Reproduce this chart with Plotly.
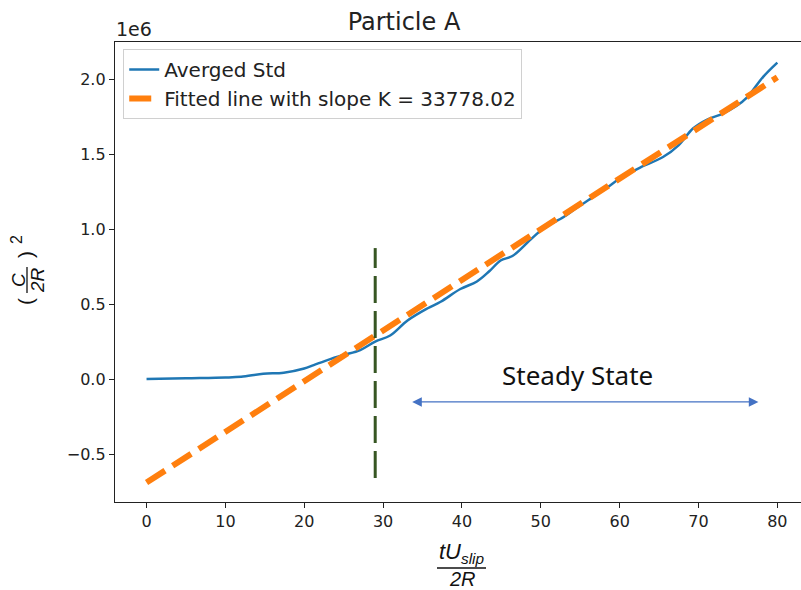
import plotly.graph_objects as go

# Averaged std curve
t_std = [0, 5, 10, 12, 14.8, 17.4, 20, 21.2, 23.3, 25, 27.1, 29, 30.9, 33.1, 35.6,
         37.3, 39.8, 41.9, 43.5, 44.9, 46.4, 48.7, 50.5, 52.9, 54.5, 56.7, 58.5,
         60.1, 62.6, 65.5, 67.5, 69.3, 71.1, 73.1, 74.8, 76.2, 78.2, 80]
std_vals = [0, 5000, 10000, 15000, 35000, 42000, 70000, 93000, 133000, 160000, 193000,
            250000, 290000, 390000, 470000, 515000, 600000, 650000, 720000, 790000,
            820000, 930000, 1010000, 1080000, 1140000, 1215000, 1280000, 1340000,
            1410000, 1480000, 1560000, 1670000, 1730000, 1770000, 1820000, 1880000,
            2015000, 2110000]

# fitted line endpoints, slope K = 33778.02
t_fit = [0, 80]
fit_vals = [-690000, 2012000]

# steady state marker line
t_mark = [29, 29]
mark_vals = [-660000, 873000]

# steady state arrow span
arrow_t = [33.5, 77.6]
arrow_val = -153000

ytick_vals = [-500000, 0, 500000, 1000000, 1500000, 2000000]
ytick_text = ["\u22120.5", "0.0", "0.5", "1.0", "1.5", "2.0"]
xtick_vals = [0, 10, 20, 30, 40, 50, 60, 70, 80]

L, R, T, B = 115, 0, 42, 88
W, H = 801, 590
PW, PH = W - L - R, H - T - B


def px(x):
    return (x - L) / PW


def py(y):
    return (H - B - y) / PH


def label(x, y, text, size, family, angle=0, color="#111"):
    return dict(x=px(x), y=py(y), xref="paper", yref="paper", text=text,
                showarrow=False, xanchor="center", yanchor="middle", textangle=angle,
                font=dict(family=family, size=size, color=color))


fig = go.Figure()
fig.add_trace(go.Scatter(x=t_std, y=std_vals, mode="lines", name="Averged Std",
                         line=dict(color="#1f77b4", width=2.5, shape="spline")))
fig.add_trace(go.Scatter(x=t_fit, y=fit_vals, mode="lines",
                         name="Fitted line with slope K = 33778.02",
                         line=dict(color="#ff7f0e", width=6, dash="22px,9px")))
fig.add_trace(go.Scatter(x=t_mark, y=mark_vals, mode="lines", showlegend=False,
                         line=dict(color="#375623", width=3, dash="27px,8px")))

font = "DejaVu Sans, sans-serif"
lab = "Liberation Sans, sans-serif"
ann = []
# double arrow
ann.append(dict(x=arrow_t[1], y=arrow_val, ax=arrow_t[0], ay=arrow_val,
                xref="x", yref="y", axref="x", ayref="y", text="",
                showarrow=True, arrowhead=2, startarrowhead=2, arrowside="end+start",
                arrowsize=1.6, arrowwidth=1.2, arrowcolor="#4472C4",
                startarrowsize=1.6))
ann.append(label(577, 375, "Steady State", 26, "Noto Sans, sans-serif"))
# offset label
ann.append(label(134, 29, "1e6", 19, font, color="#222"))
# x axis label (fraction)
ann.append(label(462, 553, "<i>tU<sub>slip</sub></i>", 22, lab))
ann.append(label(462, 579, "<i>2R</i>", 20, lab))
# y axis label pieces (rotated)
ann.append(label(25, 302, "(", 21, lab, -90))
ann.append(label(18, 280, "<i>C</i>", 19, lab, -90))
ann.append(label(37, 280, "<i>2R</i>", 19, lab, -90))
ann.append(label(25, 255, ")", 21, lab, -90))
ann.append(label(16, 239, "2", 16, lab, -90))

shapes = [
    dict(type="line", xref="paper", yref="paper", x0=px(437), x1=px(486),
         y0=py(568), y1=py(568), line=dict(color="#111", width=1.3)),
    dict(type="line", xref="paper", yref="paper", x0=px(27), x1=px(27),
         y0=py(267), y1=py(293), line=dict(color="#111", width=1.3)),
]

fig.update_layout(
    width=W, height=H,
    margin=dict(l=L, r=R, t=T, b=B, autoexpand=False),
    paper_bgcolor="white", plot_bgcolor="white",
    font=dict(family=font, size=13, color="#222"),
    title=dict(text="Particle A", x=px(461), y=1 - 22 / H, xanchor="center", yanchor="middle",
               font=dict(family=font, size=24, color="#222")),
    legend=dict(x=0.012, y=0.985, xanchor="left", yanchor="top",
                bgcolor="rgba(255,255,255,0.85)", bordercolor="#d0d0d0", borderwidth=1,
                font=dict(family=font, size=20, color="#222")),
    annotations=ann, shapes=shapes,
)
fig.update_xaxes(range=[-4, 83], tickvals=xtick_vals, showgrid=False, zeroline=False,
                 showline=True, linecolor="#222", linewidth=1.3, mirror=True,
                 ticks="outside", ticklen=5, tickcolor="#222", automargin=False,
                 tickfont=dict(family=font, size=16, color="#222"))
fig.update_yaxes(range=[-820000, 2247000], tickvals=ytick_vals, ticktext=ytick_text,
                 showgrid=False, zeroline=False, automargin=False,
                 showline=True, linecolor="#222", linewidth=1.3, mirror=True,
                 ticks="outside", ticklen=5, tickcolor="#222",
                 tickfont=dict(family=font, size=16, color="#222"))

# body has a default 8px margin; drop it so the figure fills the window
fig.write_html("out.html", config={"displayModeBar": False},
               post_script="document.body.style.margin='0';")
